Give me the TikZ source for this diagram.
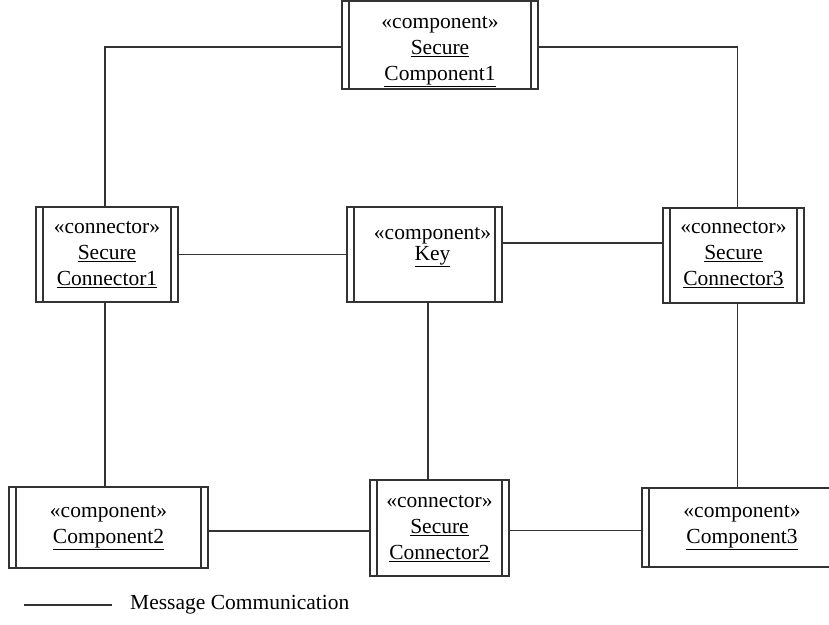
\documentclass[tikz,border=0pt]{standalone}
\usepackage{fontspec}
\setmainfont{Liberation Serif}
\newcommand\boxtext[2]{\raisebox{#1}[\height][\depth]{\begin{tabular}{@{}c@{}}#2\end{tabular}}}
\begin{document}
\begin{tikzpicture}[x=1pt,y=-1pt,
  box/.style={draw=black!80, line width=1.2pt, fill=white, align=center, inner sep=0pt,
    font=\fontsize{21.5}{26}\selectfont,
    path picture={\draw[black!80, line width=1.2pt]
      ([xshift=7pt]path picture bounding box.north west) -- ([xshift=7pt]path picture bounding box.south west)
      ([xshift=-7pt]path picture bounding box.north east) -- ([xshift=-7pt]path picture bounding box.south east);}},
  wire/.style={draw=black!80, line width=1.2pt}]
\useasboundingbox (0,0) rectangle (829,624);
\clip (0,0) rectangle (829,624);

\node[box, minimum width=196pt, minimum height=88pt] (comp1) at (440,45)
  {\boxtext{-4pt}{«component»\\\underline{Secure}\\\underline{Component1}}};
\node[box, minimum width=142pt, minimum height=95pt] (conn1) at (107,254.5)
  {\boxtext{0pt}{«connector»\\\underline{Secure}\\\underline{Connector1}}};
\node[box, minimum width=155pt, minimum height=95pt] (key) at (424.5,254.5)
  {\boxtext{10pt}{\hspace*{16pt}«component»\\[-5pt]\hspace*{16pt}\underline{Key}}};
\node[box, minimum width=141pt, minimum height=95pt] (conn3) at (733.5,255.5)
  {\boxtext{1.5pt}{«connector»\\\underline{Secure}\\\underline{Connector3}}};
\node[box, minimum width=199pt, minimum height=81pt] (comp2) at (108.5,527.5)
  {\boxtext{2.5pt}{«component»\\\underline{Component2}}};
\node[box, minimum width=139pt, minimum height=96pt] (conn2) at (439.5,528)
  {\boxtext{0pt}{«connector»\\\underline{Secure}\\\underline{Connector2}}};
\node[box, minimum width=200pt, minimum height=79pt] (comp3) at (742,527.5)
  {\boxtext{2.5pt}{«component»\\\underline{Component3}}};

\draw[wire] ([yshift=-2pt]comp1.west) -| ([xshift=-2pt]conn1.north);
\draw[wire] ([yshift=-2pt]comp1.east) -| ([xshift=4pt]conn3.north);
\draw[wire] (conn1.east) -- (conn1.east -| key.west);
\draw[wire] ([yshift=11.5pt]key.east) -- ([yshift=11.5pt]key.east -| conn3.west);
\draw[wire] ([xshift=-2pt]conn1.south) -- ([xshift=-2pt]conn1.south |- comp2.north);
\draw[wire] ([xshift=3.5pt]key.south) -- ([xshift=3.5pt]key.south |- conn2.north);
\draw[wire] ([xshift=4pt]conn3.south) -- ([xshift=4pt]conn3.south |- comp3.north);
\draw[wire] ([yshift=-3.5pt]comp2.east) -- ([yshift=-3.5pt]comp2.east -| conn2.west);
\draw[wire] ([yshift=-2.5pt]conn2.east) -- ([yshift=-2.5pt]conn2.east -| comp3.west);

\coordinate (lg1) at (24,605);
\coordinate (lg2) at (112,605);
\draw[wire] (lg1) -- (lg2);
\node[anchor=west, inner sep=0pt, font=\fontsize{21.5}{26}\selectfont] (lgt) at (130,605) {Message Communication};
\end{tikzpicture}
\end{document}
